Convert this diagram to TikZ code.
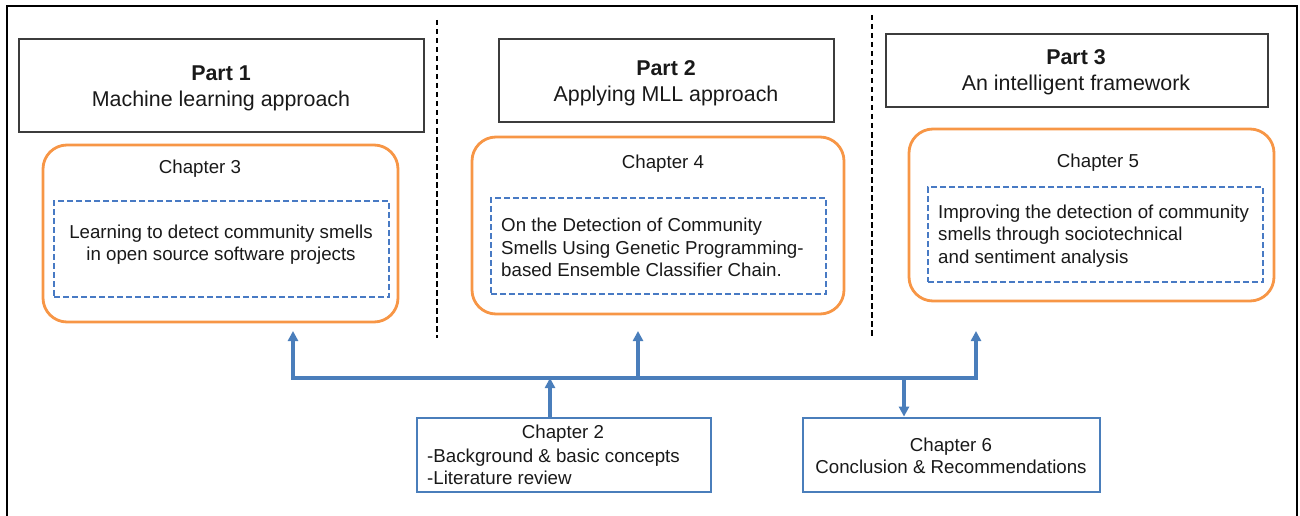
\documentclass[tikz,border=0pt]{standalone}
\usepackage{fontspec}
\setmainfont{Liberation Sans}
\usetikzlibrary{arrows.meta}

\definecolor{linkblue}{RGB}{74,126,187}
\definecolor{innerblue}{RGB}{72,122,196}
\definecolor{orangeC}{RGB}{247,150,70}
\definecolor{partgray}{RGB}{60,60,60}
\definecolor{txt}{RGB}{25,25,25}

\newcommand{\chapfont}{\fontsize{18.7}{22.5}\selectfont}
\newcommand{\partfont}{\fontsize{21.4}{26}\selectfont}

\tikzset{
  partbox/.style={draw=partgray, line width=1.5pt, inner sep=0pt},
  chapbox/.style={draw=orangeC, line width=2.8pt, rounded corners=24pt, inner sep=0pt},
  innerbox/.style={draw=innerblue, line width=2.3pt, dash pattern=on 6pt off 3pt, inner sep=0pt},
  bluebox/.style={draw=linkblue, line width=2.8pt, inner sep=0pt},
  link/.style={draw=linkblue, line width=3.2pt, line join=miter},
  arr/.style={link, -{Triangle[width=10pt,length=10pt]}},
  arrboth/.style={link, {Triangle[width=10pt,length=10pt]}-{Triangle[width=10pt,length=10pt]}},
  sepline/.style={draw=black, line width=1.8pt, dash pattern=on 5.5pt off 3.5pt},
  ctext/.style={font=\chapfont, text=txt, inner sep=0pt},
  ptext/.style={font=\partfont, text=txt, inner sep=0pt, align=center},
}

\begin{document}
\begin{tikzpicture}[x=1pt, y=-1pt]
\useasboundingbox (0,0) rectangle (1300,516);

% outer frame (open at the bottom)
\draw[line width=1.9pt, black] (7,516) -- (7,6) -- (1297,6) -- (1297,516);

% column separators
\draw[sepline] (437,20) -- (437,338);
\draw[sepline] (872,15) -- (872,338);

% part headers
\node[partbox, minimum width=405pt, minimum height=93pt] (p1) at (221.5,85.5) {};
\node[partbox, minimum width=335pt, minimum height=83pt] (p2) at (666.5,80.5) {};
\node[partbox, minimum width=382pt, minimum height=73pt] (p3) at (1077,70.5) {};
\node[ptext] (p1t) at (221,88) {\textbf{Part 1}\\Machine learning approach};
\node[ptext] (p2t) at (666,83) {\textbf{Part 2}\\Applying MLL approach};
\node[ptext] (p3t) at (1076,72.5) {\textbf{Part 3}\\An intelligent framework};

% chapter boxes
\node[chapbox, minimum width=355pt, minimum height=177pt] (ch3) at (220.5,233.5) {};
\node[chapbox, minimum width=372pt, minimum height=177pt] (ch4) at (658,225.5) {};
\node[chapbox, minimum width=365pt, minimum height=172pt] (ch5) at (1091.5,215) {};

\node[ctext] (ch3t) at (200,169) {Chapter 3};
\node[ctext] (ch4t) at (663,164) {Chapter 4};
\node[ctext] (ch5t) at (1098,163) {Chapter 5};

% paper boxes inside the chapters
\node[innerbox, minimum width=335pt, minimum height=96pt] (in3) at (221.5,249) {};
\node[innerbox, minimum width=335pt, minimum height=96pt] (in4) at (658.5,246) {};
\node[innerbox, minimum width=335pt, minimum height=95pt] (in5) at (1095.5,234.5) {};

\node[ctext, align=center] (in3t) at (221,244.5)
  {Learning to detect community smells\\in open source software projects};
\node[ctext, align=left, anchor=west] (in4t) at (501,247.5)
  {On the Detection of Community\\Smells Using Genetic Programming-\\based Ensemble Classifier Chain.};
\node[ctext, align=left, anchor=west] (in5t) at (938,236)
  {Improving the detection of community\\smells through sociotechnical\\and sentiment analysis};

% background and conclusion chapters
\node[bluebox, minimum width=294pt, minimum height=74pt] (c2) at (564,455) {};
\node[bluebox, minimum width=297pt, minimum height=74pt] (c6) at (951.5,455) {};
\node[ctext] (c2t) at (563,434) {Chapter 2};
\node[ctext, align=left, anchor=west] (c2l) at (427,467)
  {-Background \& basic concepts\\-Literature review};
\node[ctext, align=center] (c6t) at (951,456)
  {Chapter 6\\Conclusion \& Recommendations};

% connector bus
\coordinate (busL) at (293,378);
\coordinate (busM) at (638,378);
\coordinate (busR) at (976,378);
\coordinate (j2) at (550,378);
\coordinate (j6) at (904,378);
\coordinate (t3) at (293,331);
\coordinate (t4) at (638,331);
\coordinate (t5) at (976,331);

\draw[arrboth] (t3) -- (busL) -- (busR) -- (t5);
\draw[arr] (busM) -- (t4);
\draw[arr] (c2.north -| j2) -- (j2);
\draw[arr] (j6) -- (j6 |- c6.north);
\end{tikzpicture}
\end{document}
